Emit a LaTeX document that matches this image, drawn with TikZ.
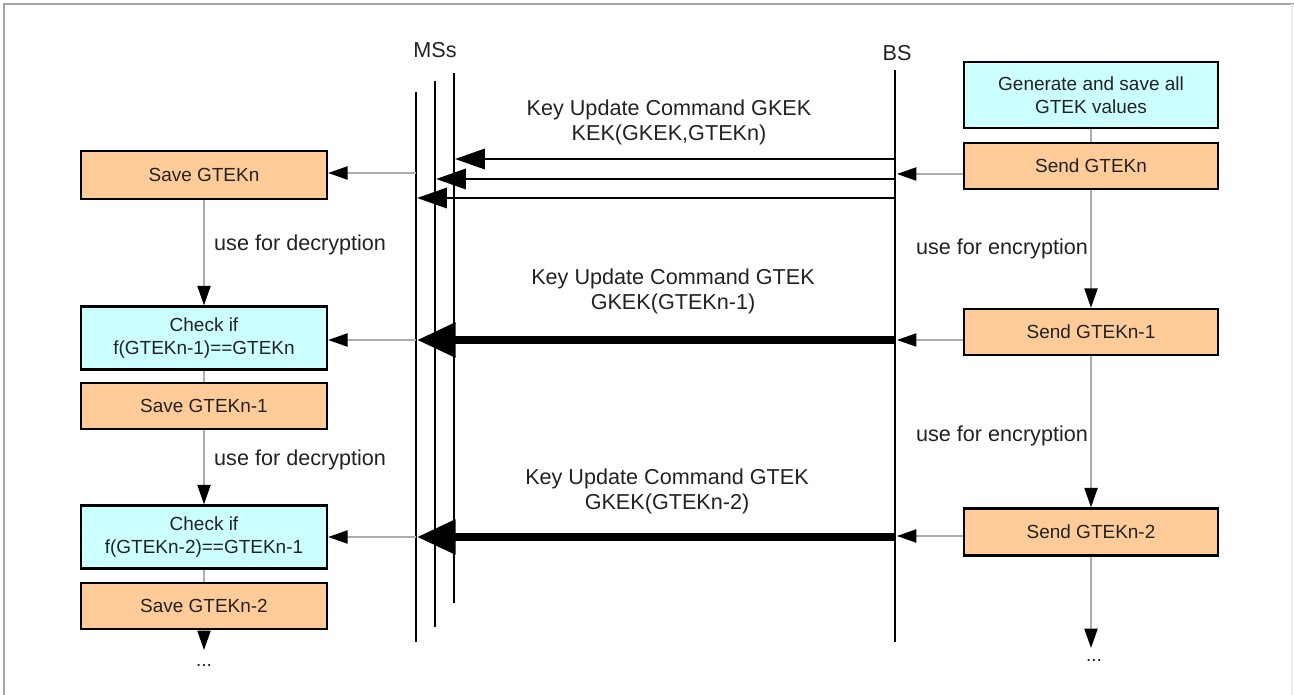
\documentclass[tikz,border=0pt]{standalone}
\usepackage{fontspec}
\setmainfont{Liberation Sans}
\usetikzlibrary{arrows.meta,calc}
\definecolor{boxorange}{HTML}{FFCC99}
\definecolor{boxcyan}{HTML}{CCFFFF}
\definecolor{thingray}{gray}{0.68}
\definecolor{txt}{HTML}{222222}
\tikzset{
  x=0.02cm, y=-0.02cm,
  every node/.style={text=txt},
  boxbase/.style={draw=black, line width=1.4pt, inner sep=0pt, align=center,
    font=\fontsize{10.8}{13}\selectfont},
  rbox/.style={boxbase, minimum width=5.08cm},
  lbox/.style={boxbase, minimum width=4.92cm},
  orangebox/.style={fill=boxorange},
  cyanbox/.style={fill=boxcyan},
  lifeline/.style={line width=1.6pt, black},
  thinarrow/.style={draw=thingray, line width=0.8pt, -{Triangle[length=11pt,width=7.5pt,color=black]}},
  thinline/.style={draw=thingray, line width=0.8pt},
  midarrow/.style={line width=1.6pt, black, -{Triangle[length=17pt,width=11.5pt]}},
  bigarrow/.style={line width=4.5pt, black, -{Triangle[length=22pt,width=19pt]}},
  msglabel/.style={align=center, font=\fontsize{12.3}{14.2}\selectfont},
  sidelabel/.style={font=\fontsize{12.3}{14.2}\selectfont},
  dots/.style={font=\fontsize{10.8}{13}\selectfont},
}
\begin{document}
\begin{tikzpicture}
\useasboundingbox (0,0) rectangle (1294,695);
% frame
\draw[gray!70, line width=1.2pt] (4,695) -- (4,4) -- (1294,4);
\draw[gray!15, line width=0.8pt] (1292,4) -- (1292,695);

% lifelines
\coordinate (ms1top) at (416,92);  \coordinate (ms1bot) at (416,642);
\coordinate (ms2top) at (435,81);  \coordinate (ms2bot) at (435,627);
\coordinate (ms3top) at (454,73);  \coordinate (ms3bot) at (454,603);
\coordinate (bstop) at (895,70);   \coordinate (bsbot) at (895,642);
\draw[lifeline] (ms1top) -- (ms1bot);
\draw[lifeline] (ms2top) -- (ms2bot);
\draw[lifeline] (ms3top) -- (ms3bot);
\draw[lifeline] (bstop) -- (bsbot);
\node[sidelabel] (mslabel) at (435,50) {MSs};
\node[sidelabel] (bslabel) at (897,53) {BS};

% right boxes
\node[rbox, cyanbox, minimum height=1.32cm] (gen) at (1091,95) {Generate and save all\\GTEK values};
\node[rbox, orangebox, minimum height=0.92cm] (sendn) at (1091,166) {Send GTEKn};
\node[rbox, orangebox, minimum height=0.92cm] (sendn1) at (1091,332) {Send GTEKn-1};
\node[rbox, orangebox, minimum height=0.94cm] (sendn2) at (1091,532) {Send GTEKn-2};

% left boxes
\node[lbox, orangebox, minimum height=0.96cm] (saven) at (204,175) {Save GTEKn};
\node[lbox, cyanbox, minimum height=1.26cm] (check1) at (204,338) {Check if\\f(GTEKn-1)==GTEKn};
\node[lbox, orangebox, minimum height=0.92cm] (saven1) at (204,406) {Save GTEKn-1};
\node[lbox, cyanbox, minimum height=1.26cm] (check2) at (204,537) {Check if\\f(GTEKn-2)==GTEKn-1};
\node[lbox, orangebox, minimum height=0.92cm] (saven2) at (204,606) {Save GTEKn-2};

% right vertical flow
\draw[thinline] (gen.south) -- (sendn.north);
\draw[thinarrow] (sendn.south) -- (sendn1.north);
\draw[thinarrow] (sendn1.south) -- (sendn2.north);
\coordinate (rend) at (1091,648);
\draw[thinarrow] (sendn2.south) -- (rend);
\node[dots] (rdots) at (1094,660) {...};
\node[sidelabel] (enc1) at (1002,249) {use for encryption};
\node[sidelabel] (enc2) at (1002,436) {use for encryption};

% left vertical flow
\draw[thinarrow] (saven.south) -- (check1.north);
\draw[thinline] (check1.south) -- (saven1.north);
\draw[thinarrow] (saven1.south) -- (check2.north);
\draw[thinline] (check2.south) -- (saven2.north);
\coordinate (lend) at (204,650);
\draw[thinarrow] (saven2.south) -- (lend);
\node[dots] (ldots) at (204,665) {...};
\node[sidelabel, anchor=west] (dec1) at (208,245) {use for decryption};
\node[sidelabel, anchor=west] (dec2) at (208,460) {use for decryption};

% message 1
\coordinate (bsin1) at (897,174);
\draw[thinarrow] (sendn.west |- bsin1) -- (bsin1);
\coordinate (bsa) at (895,159); \coordinate (msa) at (455,159);
\coordinate (bsb) at (895,179); \coordinate (msb) at (436,179);
\coordinate (bsc) at (895,198); \coordinate (msc) at (417,198);
\draw[midarrow] (bsa) -- (msa);
\draw[midarrow] (bsb) -- (msb);
\draw[midarrow] (bsc) -- (msc);
\coordinate (msout1) at (416,173);
\draw[thinarrow] (msout1) -- (saven.east |- msout1);
\node[msglabel] (lab1) at (669,122) {Key Update Command GKEK\\KEK(GKEK,GTEKn)};

% message 2
\coordinate (bsin2) at (897,340);
\draw[thinarrow] (sendn1.west |- bsin2) -- (bsin2);
\coordinate (bsd) at (895,340); \coordinate (msd) at (417,340);
\draw[bigarrow] (bsd) -- (msd);
\coordinate (msout2) at (416,340);
\draw[thinarrow] (msout2) -- (check1.east |- msout2);
\node[msglabel] (lab2) at (673,291) {Key Update Command GTEK\\GKEK(GTEKn-1)};

% message 3
\coordinate (bsin3) at (897,536);
\draw[thinarrow] (sendn2.west |- bsin3) -- (bsin3);
\coordinate (bse) at (895,537); \coordinate (mse) at (417,537);
\draw[bigarrow] (bse) -- (mse);
\coordinate (msout3) at (416,537);
\draw[thinarrow] (msout3) -- (check2.east |- msout3);
\node[msglabel] (lab3) at (667,491) {Key Update Command GTEK\\GKEK(GTEKn-2)};
\end{tikzpicture}
\end{document}
